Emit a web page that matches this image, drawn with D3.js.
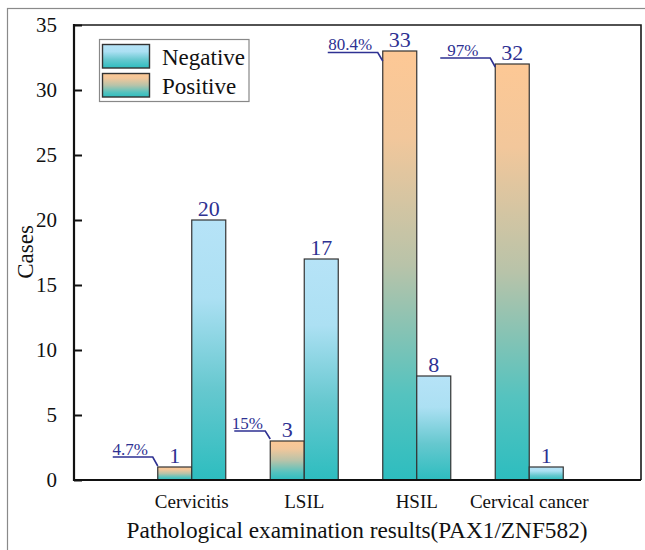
<!DOCTYPE html>
<html>
<head>
<meta charset="utf-8">
<script src="https://cdn.jsdelivr.net/npm/d3@7"></script>
<style>
  html, body { margin: 0; padding: 0; background: #fff; }
  svg { display: block; }
  svg text { font-family: 'Liberation Serif', Tinos, 'Times New Roman', 'DejaVu Serif', serif !important; }
</style>
</head>
<body>
<script>
// ---- data ----
const categories = ["Cervicitis", "LSIL", "HSIL", "Cervical cancer"];
const positiveCases = [1, 3, 33, 32];
const negativeCases = [20, 17, 8, 1];
const positiveRates = ["4.7%", "15%", "80.4%", "97%"];
const yTickValues = [0, 5, 10, 15, 20, 25, 30, 35];
const seriesNames = ["Negative", "Positive"];

// ---- layout / style ----
const W = 645, H = 550;
const FONT = "'Liberation Serif', Tinos, 'Times New Roman', 'DejaVu Serif', serif";
const plot = { left: 74, right: 641, top: 25, bottom: 480 };
const barW = 34;
const labelBlue = "#2e3192";
const teal = "#2dbdbf";

const svg = d3.select("body").append("svg").attr("width", W).attr("height", H)
  .attr("font-family", FONT);
const defs = svg.append("defs");

function grad(id, stops) {
  const g = defs.append("linearGradient").attr("id", id)
    .attr("x1", 0).attr("y1", 0).attr("x2", 0).attr("y2", 1);
  stops.forEach(s => g.append("stop").attr("offset", s[0]).attr("stop-color", s[1]));
}
grad("gNeg", [[0, "#b6e3f7"], [0.3, "#ace0f3"], [0.65, "#66c8cf"], [1, teal]]);
grad("gPos", [[0, "#fdc895"], [0.2, "#f2c79b"], [0.5, "#b8c3a9"], [0.8, "#55c3bf"], [1, teal]]);

// outer frame
svg.append("rect").attr("x", 7.5).attr("y", 8.5).attr("width", W + 20).attr("height", H + 20)
  .attr("fill", "none").attr("stroke", "#8a8a8a").attr("stroke-width", 1.2);

const x = d3.scaleBand().domain(categories).range([135.5, 585.5]).padding(0);
const y = d3.scaleLinear().domain([0, 35]).range([plot.bottom, plot.top]);

// plot frame (top/right)
svg.append("path")
  .attr("d", `M${plot.left},${plot.top}H${plot.right}V${plot.bottom}`)
  .attr("fill", "none").attr("stroke", "#1a1a1a").attr("stroke-width", 1.6);

// bars
const rows = categories.map((c, i) => ({ c, i, pos: positiveCases[i], neg: negativeCases[i], rate: positiveRates[i] }));
const cx = d => x(d.c) + x.bandwidth() / 2;

const g = svg.append("g");
g.selectAll("rect.pos").data(rows).join("rect").attr("class", "pos")
  .attr("x", d => cx(d) - barW).attr("width", barW)
  .attr("y", d => y(d.pos)).attr("height", d => y(0) - y(d.pos))
  .attr("fill", "url(#gPos)").attr("stroke", "#333").attr("stroke-width", 1.2);
g.selectAll("rect.neg").data(rows).join("rect").attr("class", "neg")
  .attr("x", d => cx(d)).attr("width", barW)
  .attr("y", d => y(d.neg)).attr("height", d => y(0) - y(d.neg))
  .attr("fill", "url(#gNeg)").attr("stroke", "#333").attr("stroke-width", 1.2);

// value labels
g.selectAll("text.pv").data(rows).join("text").attr("class", "pv")
  .attr("x", d => cx(d) - barW / 2).attr("y", d => y(d.pos) - 4)
  .attr("text-anchor", "middle").attr("font-size", 22).attr("fill", labelBlue)
  .text(d => d.pos);
g.selectAll("text.nv").data(rows).join("text").attr("class", "nv")
  .attr("x", d => cx(d) + barW / 2).attr("y", d => y(d.neg) - 4)
  .attr("text-anchor", "middle").attr("font-size", 22).attr("fill", labelBlue)
  .text(d => d.neg);

// percentage leader annotations (style offsets per label)
const leaderLen = [45, 36, 55, 55];
const leaderRise = [10, 10, -1.5, 6];
const leaderEnd = [-1, -2, 10, 3];
rows.forEach((d, i) => {
  const bx = cx(d) - barW, top = y(d.pos);
  const x0 = bx - leaderLen[i], x1 = bx - 5, ly = top - leaderRise[i];
  g.append("path")
    .attr("d", `M${x0},${ly}H${x1}L${bx},${top + leaderEnd[i]}`)
    .attr("fill", "none").attr("stroke", labelBlue).attr("stroke-width", 1.6);
  g.append("text").attr("x", (x0 + x1) / 2 - 2.5).attr("y", ly - 2.5)
    .attr("text-anchor", "middle").attr("font-size", 17).attr("fill", labelBlue)
    .text(d.rate);
});

// y axis
const yAxis = svg.append("g").attr("transform", `translate(${plot.left},0)`)
  .call(d3.axisLeft(y).tickValues(yTickValues).tickSize(-8).tickPadding(17));
yAxis.attr("font-family", FONT);
yAxis.select(".domain").remove();
yAxis.selectAll(".tick line").attr("stroke", "#111").attr("stroke-width", 2);
yAxis.selectAll(".tick text").attr("font-size", 21).attr("fill", "#111");
svg.append("line").attr("x1", plot.left).attr("x2", plot.left)
  .attr("y1", plot.top - 1).attr("y2", plot.bottom + 1)
  .attr("stroke", "#111").attr("stroke-width", 2.2);

// x axis
const xAxis = svg.append("g").attr("transform", `translate(0,${plot.bottom})`)
  .call(d3.axisBottom(x).tickSize(0).tickPadding(15));
xAxis.attr("font-family", FONT);
xAxis.select(".domain").remove();
xAxis.selectAll(".tick text").attr("font-size", 19).attr("fill", "#111");
svg.append("line").attr("x1", plot.left - 1).attr("x2", plot.right)
  .attr("y1", plot.bottom).attr("y2", plot.bottom)
  .attr("stroke", "#111").attr("stroke-width", 2.2);

// axis titles
svg.append("text").attr("transform", "translate(33,252) rotate(-90)")
  .attr("text-anchor", "middle").attr("font-size", 23).attr("fill", "#111").text("Cases");
svg.append("text").attr("x", 357).attr("y", 538)
  .attr("text-anchor", "middle").attr("font-size", 23.3).attr("fill", "#111")
  .text("Pathological examination results(PAX1/ZNF582)");

// legend
const lg = svg.append("g");
lg.append("rect").attr("x", 99.5).attr("y", 39.5).attr("width", 149.5).attr("height", 62)
  .attr("fill", "#fff").attr("stroke", "#888").attr("stroke-width", 1.2);
const legendFill = { Negative: "url(#gNeg)", Positive: "url(#gPos)" };
seriesNames.forEach((s, i) => {
  lg.append("rect").attr("x", 102.5).attr("y", 44.5 + i * 29).attr("width", 47).attr("height", 23.5)
    .attr("fill", legendFill[s]).attr("stroke", "#333").attr("stroke-width", 1.4);
  lg.append("text").attr("x", 162).attr("y", 65 + i * 29).attr("font-size", 23)
    .attr("fill", "#111").text(s);
});

svg.selectAll("text").style("font-family", FONT);
</script>
</body>
</html>
